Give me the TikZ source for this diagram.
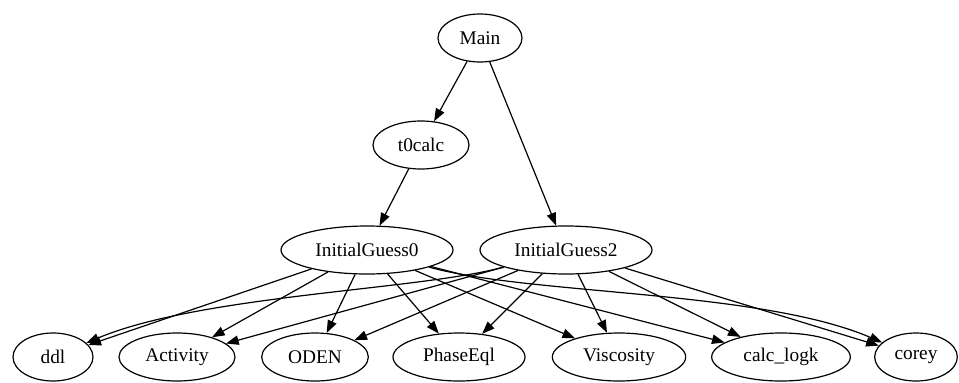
\documentclass[tikz,border=0pt]{standalone}
\usepackage{fontspec}
\setmainfont{Liberation Serif}
\usepackage{tikz}
\usetikzlibrary{shapes.geometric, arrows.meta}
\tikzstyle{func} = [ellipse, draw=black, line width=0.9pt, minimum height=36pt, inner sep=0pt, font=\rmfamily\fontsize{14.5}{16}\selectfont]
\tikzstyle{arrow} = [line width=0.9pt, ->, >={Triangle[length=9.5pt, width=7pt]}]

\begin{document}
\begin{tikzpicture}[x=0.75pt, y=-0.75pt]
		\useasboundingbox (0,0) rectangle (959,382);
		\node (main) [func, minimum width=63pt] at (480,38) {Main};
		\node (t0calc) [func, minimum width=72pt] at (421,145) {t0calc};
		\node (guess0) [func, minimum width=129pt] at (367,250) {InitialGuess0};
		\node (guess2) [func, minimum width=129pt] at (566,250) {InitialGuess2};
		\node (ddl) [func, minimum width=60pt] at (53,357) {ddl};
		\node (activity) [func, minimum width=87pt] at (177,357) {Activity};
		\node (oden) [func, minimum width=80pt] at (315,357) {ODEN};
		\node (phaseeql) [func, minimum width=99pt] at (459,357) {PhaseEql};
		\node (viscosity) [func, minimum width=100pt] at (619,357) {Viscosity};
		\node (logk) [func, minimum width=104pt] at (781,357) {calc\_logk};
		\node (corey) [func, minimum width=62pt] at (916,357) {corey};
		\draw [arrow] (main) -- (t0calc);
		\draw [arrow] (main) -- (guess2);
		\draw [arrow] (t0calc) -- (guess0);
		% InitialGuess0
		\draw [arrow] (guess0) -- (ddl);
		\draw [arrow] (guess0) -- (activity);
		\draw [arrow] (guess0) -- (oden);
		\draw [arrow] (guess0) -- (phaseeql);
		\draw [arrow] (guess0) -- (viscosity);
		\draw [arrow] (guess0) -- (logk);
		\draw [arrow] (guess0) .. controls (530,295) and (760,290) .. (corey);
		% InitialGuess2
		\draw [arrow] (guess2) .. controls (420,290) and (200,295) .. (ddl);
		\draw [arrow] (guess2) -- (activity);
		\draw [arrow] (guess2) -- (oden);
		\draw [arrow] (guess2) -- (phaseeql);
		\draw [arrow] (guess2) -- (viscosity);
		\draw [arrow] (guess2) -- (logk);
		\draw [arrow] (guess2) -- (corey);
		\end{tikzpicture}
\end{document}
